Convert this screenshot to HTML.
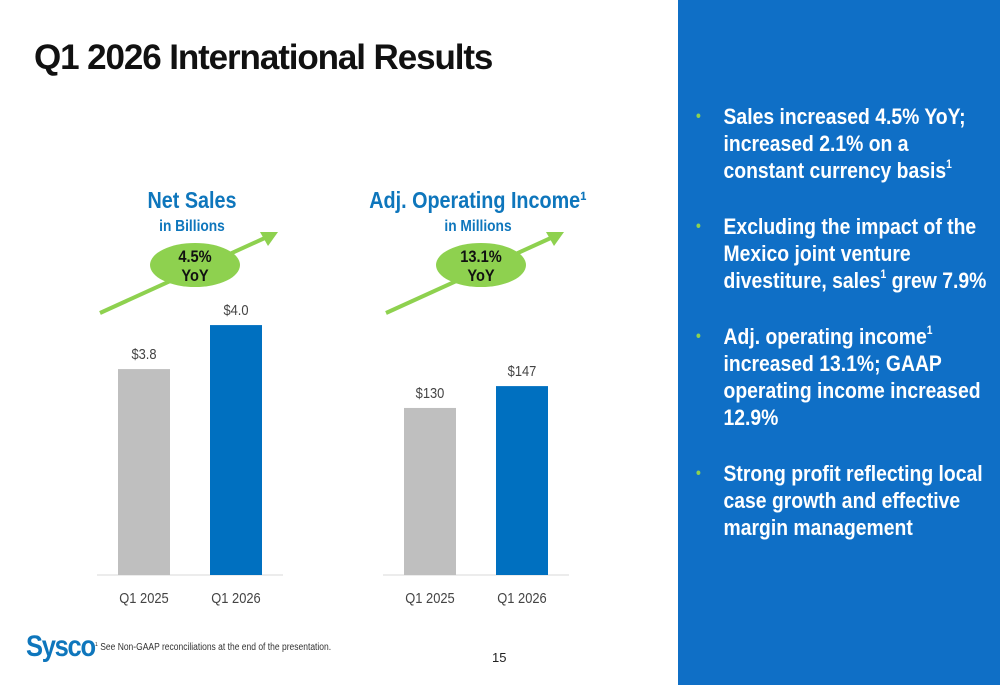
<!DOCTYPE html>
<html><head><meta charset="utf-8"><style>
body{margin:0;width:1000px;height:685px;overflow:hidden;background:#fff;font-family:"Liberation Sans",sans-serif;position:relative}
.abs{position:absolute}
#panel{left:678px;top:0;width:322px;height:685px;background:#0f6fc6}
#panel ul{list-style:none;margin:0;padding:0;position:absolute;left:18px;top:103px;width:360px;transform:scaleX(0.86);transform-origin:0 0}
#panel li{color:#fff;font-weight:bold;font-size:22.5px;line-height:27px;position:relative;padding-left:32px;margin-bottom:29px;white-space:nowrap}
#panel li:before{content:"•";color:#8ed14f;position:absolute;left:0;font-size:16px}
sup{font-size:12px;line-height:0;vertical-align:10px}
</style></head><body>
<div class="abs" style="left:34px;top:38px;font-size:35px;font-weight:bold;color:#111;letter-spacing:-1.1px">Q1 2026 International Results</div>
<svg class="abs" style="left:0;top:0" width="678" height="685" id="charts"></svg>
<div class="abs" style="left:26px;top:630px;font-size:30px;font-weight:bold;color:#0e76bc;letter-spacing:-1.5px;transform:scaleX(0.85);transform-origin:0 0">Sysco</div>
<div class="abs" style="left:95px;top:642px;font-size:10px;color:#333;transform:scaleX(0.85);transform-origin:0 0;white-space:nowrap"><sup style="font-size:6px;vertical-align:4px">1</sup> See Non-GAAP reconciliations at the end of the presentation.</div>
<div class="abs" style="left:492px;top:650px;font-size:13px;color:#222">15</div>
<div class="abs" id="panel">
<ul>
<li>Sales increased 4.5% YoY;<br>increased 2.1% on a<br>constant currency basis<sup>1</sup></li>
<li>Excluding the impact of the<br>Mexico joint venture<br>divestiture, sales<sup>1</sup> grew 7.9%</li>
<li>Adj. operating income<sup>1</sup><br>increased 13.1%; GAAP<br>operating income increased<br>12.9%</li>
<li>Strong profit reflecting local<br>case growth and effective<br>margin management</li>
</ul></div>
<script>
const categories=["Q1 2025","Q1 2026"];
const salesValues=[3.8,4.0];
const salesLabels=["$3.8","$4.0"];
const incomeValues=[130,147];
const incomeLabels=["$130","$147"];
const svg=document.getElementById('charts');
const NS="http://www.w3.org/2000/svg";
function el(t,a,p){const e=document.createElementNS(NS,t);for(const k in a)e.setAttribute(k,a[k]);(p||svg).appendChild(e);return e;}
function txt(x,y,str,size,weight,fill){
  const t=el('text',{x:x,y:y,'text-anchor':'middle','font-size':size,'font-weight':weight,fill:fill,transform:`translate(${x},0) scale(0.86,1) translate(${-x},0)`});
  t.textContent=str;return t;
}
function chart(x0,vals,labels,yMin,k,title,sub,yoy,name){
  const base=575;
  const y=v=>base-(v-yMin)*k;
  const t=txt(x0+95,208,title,23,'bold','#0e76bc');
  
  
  const s=txt(x0+95,231,sub,16,'bold','#0e76bc');
  
  
  const ar=el('line',{x1:x0+3,y1:313,x2:x0+170,y2:237,stroke:'#8ed14f','stroke-width':4});
  
  
  el('polygon',{points:`${x0+181},${232} ${x0+163},${232} ${x0+171},${246}`,fill:'#8ed14f'});
  const e=el('ellipse',{cx:x0+98,cy:265,rx:45,ry:22,fill:'#8ed14f'});
  
  
  txt(x0+98,262,yoy,17,'bold','#111');
  txt(x0+98,281,"YoY",17,'bold','#111');
  const ax=el('line',{x1:x0,y1:base,x2:x0+186,y2:base,stroke:'#d9d9d9','stroke-width':1});
  
  
  vals.forEach((v,i)=>{
    const bx=x0+21+i*92;
    const r=el('rect',{x:bx,y:y(v),width:52,height:base-y(v),fill:i?'#0070c0':'#bfbfbf'});
    
    
    const l=txt(bx+26,y(v)-10,labels[i],15,'normal','#444');
    
    
    const c=txt(bx+26,603,categories[i],15,'normal','#444');
    
    
  });
}
chart(97,salesValues,salesLabels,2.864,220,"Net Sales","in Billions","4.5%","net-sales");
chart(383,incomeValues,incomeLabels,0,1.285,"Adj. Operating Income\u00b9","in Millions","13.1%","operating-income");
</script>
</body></html>
